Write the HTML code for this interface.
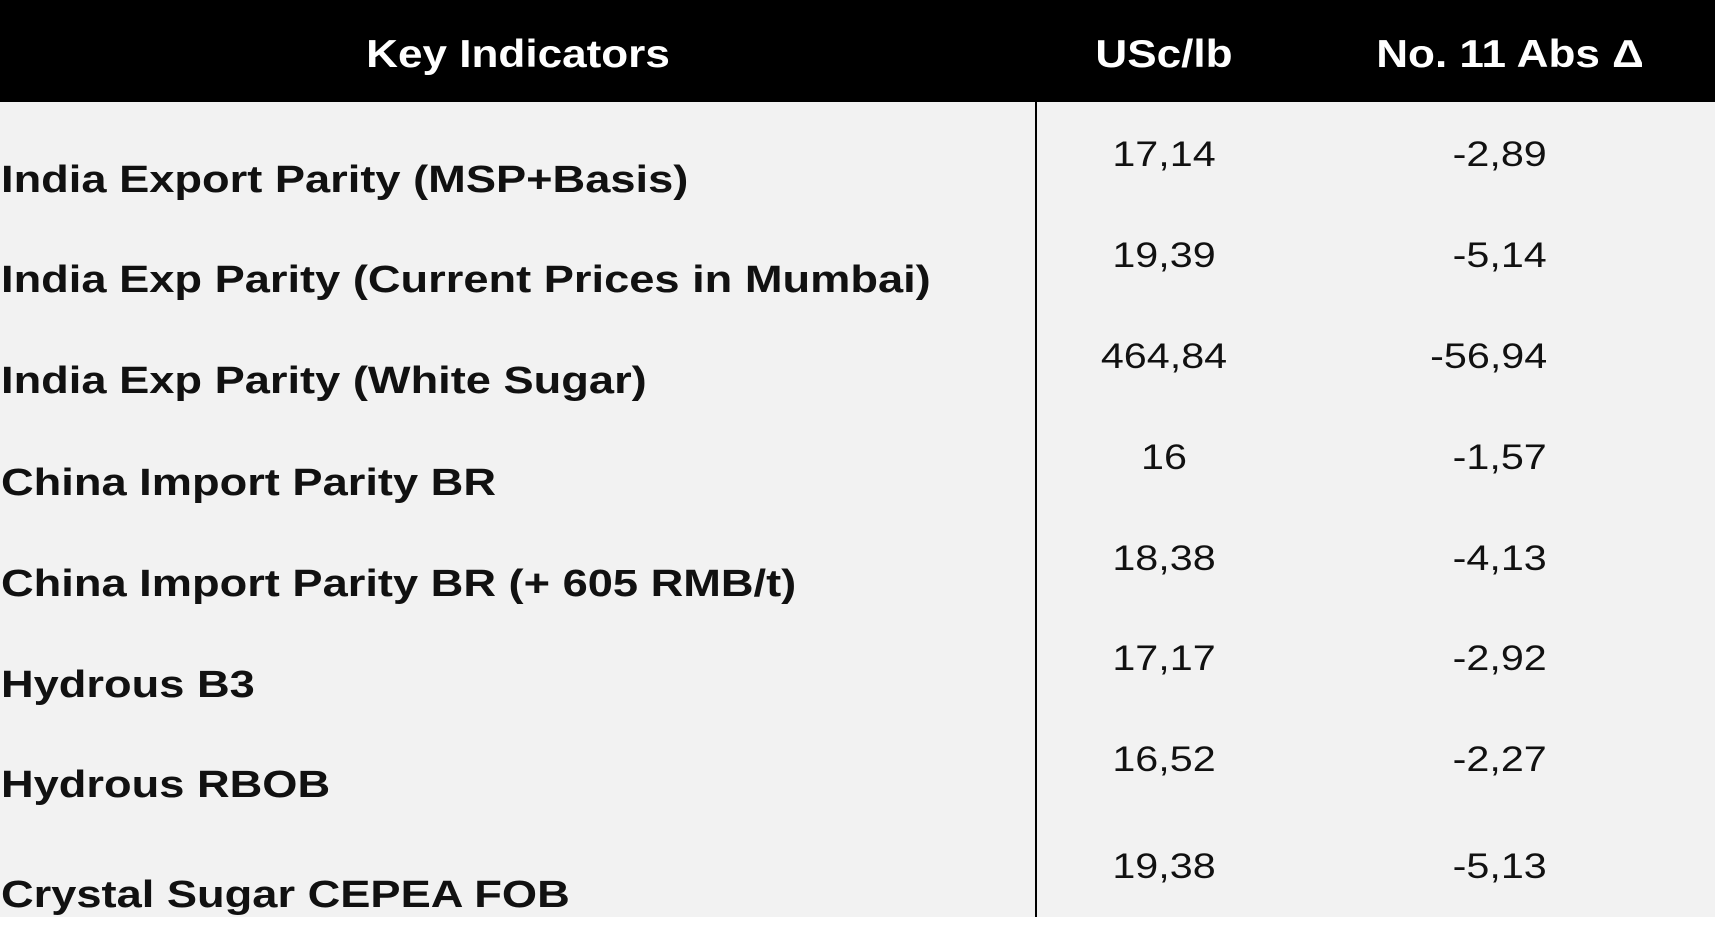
<!DOCTYPE html>
<html><head><style>
body{margin:0;width:1718px;height:943px;background:#fff;position:relative;overflow:hidden;font-family:"Liberation Sans",sans-serif;}
.hdr{position:absolute;left:0;top:0;width:1715px;height:102px;background:#000;}
.bg{position:absolute;left:0;top:102px;width:1715px;height:815px;background:#f2f2f2;}
.div{position:absolute;left:1035px;top:102px;width:2px;height:815px;background:#000;}
.t{position:absolute;white-space:nowrap;line-height:1;}
.h{color:#fff;font-weight:bold;font-size:39px;top:35px;transform:translateX(-50%) scaleX(1.13);}
.l{left:1px;font-weight:bold;font-size:38px;color:#111;transform:scaleX(1.19);transform-origin:left;}
.v{font-size:35px;color:#111;transform:translateX(-50%) scaleX(1.18);left:1164px;}
.d{font-size:35px;color:#111;right:171px;transform:scaleX(1.18);transform-origin:right;}
</style></head><body>
<div class="hdr"></div><div class="bg"></div><div class="div"></div>
<div class="t h" style="left:518px">Key Indicators</div>
<div class="t h" style="left:1164px">USc/lb</div>
<div class="t h" style="left:1510px">No. 11 Abs Δ</div>

<div class="t l" style="top:161px">India Export Parity (MSP+Basis)</div>
<div class="t l" style="top:261px">India Exp Parity (Current Prices in Mumbai)</div>
<div class="t l" style="top:362px">India Exp Parity (White Sugar)</div>
<div class="t l" style="top:464px">China Import Parity BR</div>
<div class="t l" style="top:565px">China Import Parity BR (+ 605 RMB/t)</div>
<div class="t l" style="top:666px">Hydrous B3</div>
<div class="t l" style="top:766px">Hydrous RBOB</div>
<div class="t l" style="top:876px">Crystal Sugar CEPEA FOB</div>

<div class="t v" style="top:137px">17,14</div>
<div class="t v" style="top:238px">19,39</div>
<div class="t v" style="top:339px">464,84</div>
<div class="t v" style="top:440px">16</div>
<div class="t v" style="top:541px">18,38</div>
<div class="t v" style="top:641px">17,17</div>
<div class="t v" style="top:742px">16,52</div>
<div class="t v" style="top:849px">19,38</div>

<div class="t d" style="top:137px">-2,89</div>
<div class="t d" style="top:238px">-5,14</div>
<div class="t d" style="top:339px">-56,94</div>
<div class="t d" style="top:440px">-1,57</div>
<div class="t d" style="top:541px">-4,13</div>
<div class="t d" style="top:641px">-2,92</div>
<div class="t d" style="top:742px">-2,27</div>
<div class="t d" style="top:849px">-5,13</div>
</body></html>
